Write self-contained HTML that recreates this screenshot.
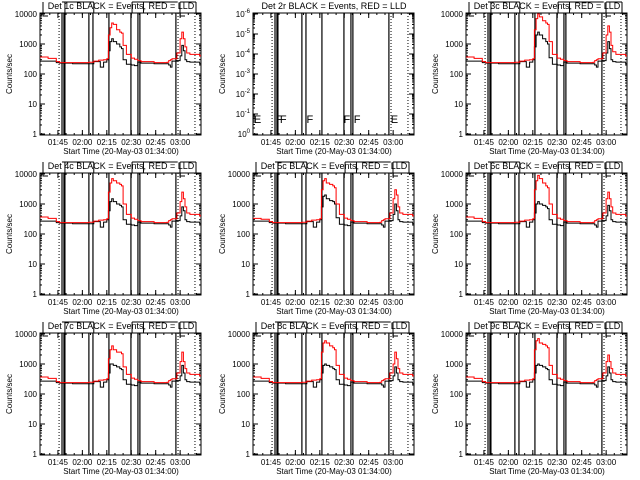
<!DOCTYPE html>
<html><head><meta charset="utf-8"><style>
html,body{margin:0;padding:0;background:#fff;}
svg{display:block;font-family:"Liberation Sans",sans-serif;}
</style></head><body>
<svg id="chart" width="640" height="480" viewBox="0 0 640 480"></svg>
<script>
const times = [0,5,10,12,20,30,33,36,37,39,41,42,43,44,45,47,49,50,51,53,56,58,60,62,70,78,79,80,81,84,86,87,88,89,90,92,98];
const panelTitles = ["Det 1c","Det 2r","Det 3c","Det 4c","Det 5c","Det 6c","Det 7c","Det 8c","Det 9c"];
const black1 = [270,270,240,230,220,220,260,260,170,250,300,600,1200,1500,1200,1000,800,700,300,210,200,190,250,230,220,220,200,170,270,280,400,900,600,300,260,250,220];
const red1   = [370,330,260,240,240,245,270,290,290,300,320,2000,3500,5000,4500,3000,2500,2300,900,450,340,310,280,260,240,245,280,300,320,500,1500,2500,1500,800,500,450,400];
const black3 = [270,270,240,230,220,220,260,260,170,250,300,800,2000,2500,2000,1500,1200,1000,350,210,200,190,250,230,220,220,200,170,270,280,500,1200,700,300,260,250,220];
const red3   = [370,330,260,240,240,245,270,290,290,300,320,3000,7000,10000,8000,6000,5000,4500,1200,450,340,310,280,260,240,245,280,300,320,500,2000,4000,2500,900,550,450,400];
const black4 = [270,270,240,230,220,220,260,260,170,250,300,600,1200,1500,1200,1000,900,800,300,210,200,190,250,230,220,220,200,170,270,280,400,800,600,300,260,250,220];
const red4   = [370,330,260,240,240,245,270,290,290,300,320,2500,5000,7000,6000,5000,4500,4000,1000,450,340,310,280,260,240,245,280,300,320,500,1200,2500,1500,800,500,450,400];
const black5 = [270,270,240,230,220,220,260,260,170,250,300,800,1800,2000,1500,1300,1200,1000,350,210,200,190,250,230,220,220,200,170,270,280,450,1000,600,300,260,250,220];
const red5   = [330,310,260,240,240,245,270,290,290,300,320,3000,6000,7000,5000,4500,4000,3500,1000,450,340,310,280,260,240,245,280,300,320,500,1500,3000,2000,800,500,450,400];
const black6 = [270,270,240,230,220,220,260,260,170,250,300,500,1000,1200,1000,900,800,700,300,210,200,190,250,230,220,220,200,170,270,280,400,900,600,300,260,250,220];
const red6   = [370,330,260,240,240,245,270,290,290,300,320,3000,6000,9000,7000,5000,4000,3500,1000,450,340,310,280,260,240,245,280,300,320,500,1500,2500,1500,800,500,450,400];
const black7 = [270,270,240,230,220,220,260,260,170,250,300,500,1000,1000,900,800,700,650,300,210,200,190,250,230,220,220,200,170,270,280,400,900,500,300,260,250,220];
const red7   = [370,330,260,240,240,245,270,290,290,300,320,1500,3000,4000,3000,2500,2500,2200,800,450,340,310,280,260,240,245,280,300,320,500,1200,2500,1200,700,500,450,400];
const black8 = [270,270,240,230,220,220,260,260,170,250,300,500,900,1000,900,800,700,650,300,210,200,190,250,230,220,220,200,170,270,280,400,800,500,300,260,250,220];
const red8   = [370,330,260,240,240,245,270,290,290,300,320,2500,5000,6000,5000,4000,3500,3000,900,450,340,310,280,260,240,245,280,300,320,500,1000,2500,1500,700,500,450,400];
const black9 = [270,270,240,230,220,220,260,260,170,250,300,500,900,1000,900,800,700,650,300,210,200,190,250,230,220,220,200,170,270,280,400,800,500,300,260,250,220];
const red9   = [370,330,260,240,240,245,270,290,290,300,320,3000,6000,7000,5000,4500,4000,3500,900,450,340,310,280,260,240,245,280,300,320,500,1200,2000,1200,700,500,450,400];
const blackSeries = [black1,null,black3,black4,black5,black6,black7,black8,black9];
const redSeries = [red1,null,red3,red4,red5,red6,red7,red8,red9];
const solidLines = [13.5,14.7,15.3,30,32.5,42.3,55.8,60.1,61.3,83.4];
const dottedLines = [11.7,84.7,95.1];
const xTickLabels = ["01:45","02:00","02:15","02:30","02:45","03:00"];
const xTickMinutes = [11,26,41,56,71,86];
const yTickLabels = ["1","10","100","1000","10000"];
const yTickValues = [1,10,100,1000,10000];
const flagLabels = ["E","F","F","F","F","F","E"];
const flagTimes = [0.5,14.2,16.5,32.8,55.5,61.8,84.5];

const NS="http://www.w3.org/2000/svg";
const svg=document.getElementById('chart');
function mk(tag,attrs,parent){const e=document.createElementNS(NS,tag);for(const k in attrs)e.setAttribute(k,attrs[k]);(parent||svg).appendChild(e);return e;}
const X0=40,X1=201,Y0=13,Y1=135,TMAX=98.8;
for(let p=0;p<9;p++){
  const ox=(p%3)*213,oy=Math.floor(p/3)*160;
  const g=mk('g',{transform:`translate(${ox},${oy})`});
  
  
  const xs=t=>X0+(X1-X0)*t/TMAX;
  const ys=v=>134-30*Math.log10(v);
  const tt=mk('text',{x:121,y:9,'font-size':'9','text-anchor':'middle',fill:'#000'},g);
  tt.textContent=panelTitles[p]+" BLACK = Events, RED = LLD";
  
  
  const fr=mk('rect',{x:X0,y:Y0,width:X1-X0,height:Y1-Y0,fill:'none',stroke:'#000','stroke-width':1},g);
  
  
  if(p===1){
    const n=7;
    for(let i=0;i<n;i++){
      const y=134-i*20;
      mk('line',{x1:X0,x2:X0+5,y1:y,y2:y,stroke:'#000'},g);
      mk('line',{x1:X1-5,x2:X1,y1:y,y2:y,stroke:'#000'},g);
      for(let m=2;m<10;m++){const yy=y-20*Math.log10(m);if(yy<Y0)break;
        mk('line',{x1:X0,x2:X0+2,y1:yy,y2:yy,stroke:'#000'},g);
        mk('line',{x1:X1-2,x2:X1,y1:yy,y2:yy,stroke:'#000'},g);}
      const lt=mk('text',{x:X0-3,y:y+3,'font-size':'8','text-anchor':'end'},g);
      lt.textContent='10';
      const sp=mk('tspan',{dy:-4,'font-size':'6'},lt);
      sp.textContent=(i===0?'0':'-'+i);
      
      
    }
  } else {
    yTickValues.forEach((v,i)=>{
      const y=ys(v);
      mk('line',{x1:X0,x2:X0+5,y1:y,y2:y,stroke:'#000'},g);
      mk('line',{x1:X1-5,x2:X1,y1:y,y2:y,stroke:'#000'},g);
      if(i<yTickValues.length-1)for(let m=2;m<10;m++){const yy=ys(v*m);
        mk('line',{x1:X0,x2:X0+2,y1:yy,y2:yy,stroke:'#000'},g);
        mk('line',{x1:X1-2,x2:X1,y1:yy,y2:yy,stroke:'#000'},g);}
      const lt=mk('text',{x:X0-3,y:y+3,'font-size':'8','text-anchor':'end'},g);
      lt.textContent=yTickLabels[i];
      
      
    });
  }
  const yt=mk('text',{x:0,y:0,'font-size':'8','text-anchor':'middle',transform:`translate(12,74) rotate(-90)`},g);
  yt.textContent='Counts/sec';
  
  
  for(let m=1;m<TMAX;m+=5){const x=xs(m);
    mk('line',{x1:x,x2:x,y1:Y1,y2:Y1-2,stroke:'#000'},g);
    mk('line',{x1:x,x2:x,y1:Y0,y2:Y0+2,stroke:'#000'},g);}
  xTickMinutes.forEach((m,i)=>{const x=xs(m);
    mk('line',{x1:x,x2:x,y1:Y1,y2:Y1-5,stroke:'#000'},g);
    mk('line',{x1:x,x2:x,y1:Y0,y2:Y0+5,stroke:'#000'},g);
    const lt=mk('text',{x:x,y:145,'font-size':'8','text-anchor':'middle'},g);
    lt.textContent=xTickLabels[i];
    
    
  });
  const xt=mk('text',{x:121,y:154,'font-size':'8','text-anchor':'middle'},g);
  xt.textContent='Start Time (20-May-03 01:34:00)';
  
  
  solidLines.forEach(t=>{const l=mk('line',{x1:xs(t),x2:xs(t),y1:Y0,y2:Y1,stroke:'#000','stroke-width':1.2},g);
    
    });
  dottedLines.forEach(t=>{const l=mk('line',{x1:xs(t),x2:xs(t),y1:Y0,y2:Y1,stroke:'#000','stroke-dasharray':'1,2'},g);
    
    });
  if(p!==1){
    mk('path',{d:`M43,2 V16 H48 M${xs(13.5)},2 H${xs(33)} M${xs(15.3)},2 V13 M${xs(33)},2 V13 M${xs(56.5)},2 H${xs(84.5)} M${xs(56.5)},2 V13 M${xs(63.5)},2 V13 M${xs(86)},2 H${X1-5} M180,2 V16 H185 M196,2 V13`,fill:'none',stroke:'#000'},g);
    const pts=(arr)=>{let d='';arr.forEach((v,i)=>{const x=xs(times[i]),y=ys(v);
      d+=(i?'H'+x.toFixed(1)+'V':'M'+x.toFixed(1)+','  )+y.toFixed(1);});return d+'H'+X1;};
    const bl=mk('path',{d:pts(blackSeries[p]),fill:'none',stroke:'#000','stroke-width':1},g);
    
    
    const rl=mk('path',{d:pts(redSeries[p]),fill:'none',stroke:'#f00','stroke-width':1},g);
    
    
  } else {
    flagLabels.forEach((s,i)=>{const ft=mk('text',{x:xs(flagTimes[i]),y:123,'font-size':'11'},g);
      ft.textContent=s;
      
      });
  }
}
</script>
</body></html>
